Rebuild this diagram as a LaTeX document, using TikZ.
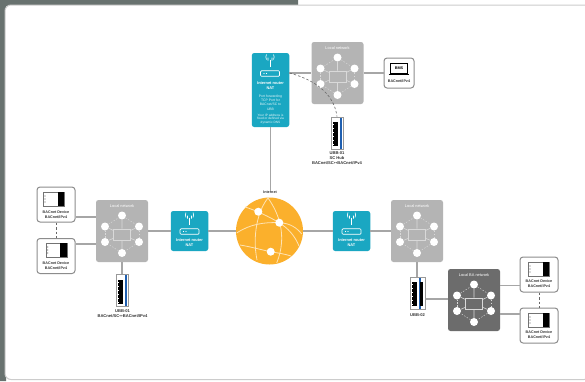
\documentclass[tikz,border=0pt]{standalone}
\usepackage{fontspec}
\setmainfont{Liberation Sans}
\newfontfamily\symfont{DejaVu Sans}
\usetikzlibrary{calc}

\definecolor{tealbox}{HTML}{1AA7C2}
\definecolor{lanbox}{HTML}{B4B4B4}
\definecolor{babox}{HTML}{6C6C6C}
\definecolor{wirecol}{HTML}{A6A6A6}
\definecolor{globecol}{HTML}{FBB02C}
\definecolor{sidecol}{HTML}{68726F}
\definecolor{ubbblue}{HTML}{1F5FB0}

\newcommand{\bothways}{{\symfont\mdseries ↔}}

\tikzset{
  wire/.style={draw=wirecol,line width=1.2pt},
  dashwire/.style={draw=black!60,line width=.6pt,dash pattern=on 2.5pt off 2pt},
  network/.style={rounded corners=2.5pt,minimum width=52pt,minimum height=62pt,inner sep=0pt,fill=lanbox},
  router/.style={rounded corners=2.5pt,minimum width=37.5pt,inner sep=0pt,fill=tealbox},
  device/.style={rounded corners=3pt,draw=black!45,line width=1pt,fill=white,minimum width=38pt,minimum height=35pt,inner sep=0pt},
  ubbbox/.style={draw=black!40,line width=.7pt,fill=white,minimum width=12pt,minimum height=32pt,inner sep=0pt},
  caption/.style={font=\bfseries\fontsize{4.1}{5}\selectfont,text=black!80,align=center,inner sep=0pt},
  whitecap/.style={font=\bfseries\fontsize{3.9}{4.8}\selectfont,text=white,align=center,inner sep=0pt},
  smallcap/.style={font=\fontsize{3.4}{4.3}\selectfont,text=white!88!tealbox,align=center,inner sep=0pt},
  dot/.style={circle,fill=white,inner sep=0pt,minimum size=8pt},
  meridian/.style={draw=white!65!globecol,line width=.8pt},
  lanicon/.pic={
    \node[dot] (-1) at (0,-15.5) {};
    \node[dot] (-2) at (17,-4.5) {};
    \node[dot] (-3) at (17,11) {};
    \node[dot] (-4) at (0,22) {};
    \node[dot] (-5) at (-17,11) {};
    \node[dot] (-6) at (-17,-4.5) {};
    \node[draw=white!85!black,line width=.6pt,minimum width=17pt,minimum height=11pt,inner sep=0pt] (-c) at (0,3.5) {};
    \foreach \a/\b in {1/2,2/3,3/4,4/5,5/6,6/1}
      \draw[white!85!black,line width=.4pt,dash pattern=on 1.5pt off 1.5pt] (-\a) -- (-\b);
    \draw[white!85!black,line width=.6pt] (-1) -- (-c) (-4) -- (-c)
      (-2) -- (-c) (-3) -- (-c) (-5) -- (-c) (-6) -- (-c);
  },
  routericon/.pic={
    \node[draw=white,line width=.7pt,rounded corners=1pt,minimum width=19pt,minimum height=5.5pt,inner sep=0pt] (-b) at (0,0) {};
    \fill[white] (-6,0) circle (.6pt) (-3.5,0) circle (.6pt);
    \draw[white,line width=.7pt] (0,-14) -- (0,-7);
    \draw[white,line width=.6pt] (-2,-13) arc (150:210:3) (2,-13) arc (30:-30:3)
      (-3.5,-14) arc (150:210:5) (3.5,-14) arc (30:-30:5);
  },
  deviceicon/.pic={
    \draw[black!55,line width=.5pt,fill=white] (-10.5,-7) rectangle (10.5,7);
    \fill[black] (4,-7) rectangle (10.5,7);
    \foreach \y in {-3,0,3} \fill[black!60] (-8.5,\y) circle (.6pt);
  },
  ubbicon/.pic={
    \fill[black] (-3.5,-11) rectangle (1.5,13);
    \foreach \y in {-9,-5,...,11} \fill[white] (-3.5,\y) rectangle (-2.2,\y+1.2);
    \fill[ubbblue] (3,-15.5) rectangle (5.7,15.5);
  }
}

\begin{document}
\begin{tikzpicture}[x=1pt,y=-1pt]
    \useasboundingbox (0,0) rectangle (585,381);

    % page and panel
    \fill[white] (0,0) rectangle (585,381);
    \fill[sidecol] (0,0) rectangle (298,6) (0,0) rectangle (6,381);
    \draw[black!20,fill=white,line width=1pt,rounded corners=6pt] (5,5) rectangle (590,379.5);

    % networks
    \node[network] (lanT) at (337.5,73) {};
    \node[network] (lanL) at (122,231) {};
    \node[network] (lanR) at (417,231) {};
    \node[network,fill=babox] (lanBA) at (474,300) {};
    \pic (iconT) at (lanT) {lanicon};
    \pic (iconL) at (lanL) {lanicon};
    \pic (iconR) at (lanR) {lanicon};
    \pic (iconBA) at (lanBA) {lanicon};
    \node[whitecap,font=\fontsize{3.9}{4.8}\selectfont] (capT) at (337.5,48) {Local network};
    \node[whitecap,font=\fontsize{3.9}{4.8}\selectfont] (capL) at (122,206) {Local network};
    \node[whitecap,font=\fontsize{3.9}{4.8}\selectfont] (capR) at (417,206) {Local network};
    \node[whitecap,font=\fontsize{3.9}{4.8}\selectfont] (capBA) at (474,275) {Local BA network};

    % routers
    \node[router,minimum height=74pt] (routerT) at (270.5,90) {};
    \node[router,minimum height=40pt] (routerL) at (189.5,231) {};
    \node[router,minimum height=40pt] (routerR) at (351.5,231) {};
    \pic (rT) at (270,73.5) {routericon};
    \pic (rL) at (189.5,231.5) {routericon};
    \pic (rR) at (351.5,231.5) {routericon};
    \node[whitecap] (txtT) at (270.5,85.5) {Internet router\\NAT};
    \node[whitecap] (txtL) at (189.5,243) {Internet router\\NAT};
    \node[whitecap] (txtR) at (351.5,243) {Internet router\\NAT};
    \node[smallcap,font=\fontsize{3.4}{4.4}\selectfont] (portT) at (270.5,102.5) {Port forwarding\\TCP Port for\\BACnet/SC to\\UBB};
    \node[smallcap,font=\fontsize{3.2}{3.7}\selectfont] (ipT) at (270.5,119) {Your IP address is\\fixed or defined via\\dynamic DNS};

    % globe
    \node[circle,fill=globecol,minimum size=67pt,inner sep=0pt] (globe) at (269.5,231) {};
    \draw[meridian] (236.7,233) .. controls (250,224) and (265,222) .. (279,222.7) .. controls (290,223) and (297,228) .. (301.7,234);
    \draw[meridian] (268,198) .. controls (258,210) and (252,235) .. (257,260);
    \draw[meridian] (268,198) .. controls (278,212) and (288,235) .. (276.7,263);
    \draw[meridian] (245,207) .. controls (255,210) and (270,217) .. (279,222.7) .. controls (288,228) and (295,236) .. (299,246);
    \draw[meridian] (240,245) .. controls (252,247) and (262,250) .. (270.7,251.7) .. controls (278,253) and (285,254) .. (291,256);
    \node[dot] (hubA) at (258.3,211.7) {};
    \node[dot] (hubB) at (279.3,222.7) {};
    \node[dot] (hubC) at (270.7,251.7) {};
    \node[caption,font=\bfseries\fontsize{3.7}{4.5}\selectfont] (inet) at (270,192.5) {Internet};

    % BMS laptop
    \node[device,minimum width=30pt,minimum height=30pt] (bms) at (399,73) {};
    \node[draw=black,line width=.7pt,fill=white,minimum width=17pt,minimum height=10pt,inner sep=0pt,font=\bfseries\fontsize{3.8}{4.5}\selectfont] (screen) at (399,68.5) {BMS};
    \draw[black,line width=1pt] ($(screen.south west)+(-1.5,1)$) -- ($(screen.south east)+(1.5,1)$);
    \node[caption,font=\bfseries\fontsize{3.7}{4.5}\selectfont] (bmscap) at (399,81) {BACnet/IPv4};

    % devices
    \node[device] (devA) at (56,204.5) {};
    \node[device] (devB) at (56,256) {};
    \node[device] (devC) at (539,274.5) {};
    \node[device] (devD) at (539,325.5) {};
    \pic at (53.5,199) {deviceicon};
    \pic at (56.3,250) {deviceicon};
    \pic at (538.5,269) {deviceicon};
    \pic at (538.5,320) {deviceicon};
    \node[caption,font=\bfseries\fontsize{3.7}{4.9}\selectfont] (capA) at (56,214.5) {BACnet Device\\BACnet/IPv4};
    \node[caption,font=\bfseries\fontsize{3.7}{4.9}\selectfont] (capB) at (56,265.5) {BACnet Device\\BACnet/IPv4};
    \node[caption,font=\bfseries\fontsize{3.7}{4.9}\selectfont] (capC) at (539,284) {BACnet Device\\BACnet/IPv4};
    \node[caption,font=\bfseries\fontsize{3.7}{4.9}\selectfont] (capD) at (539,335) {BACnet Device\\BACnet/IPv4};

    % UBB gateways
    \node[ubbbox] (ubbT) at (337,133) {};
    \node[ubbbox] (ubbL) at (122,290.5) {};
    \node[ubbbox,minimum width=15.5pt] (ubbR) at (417.8,293) {};
    \pic at (336.5,133) {ubbicon};
    \pic at (121.5,290.5) {ubbicon};
    \pic at (415.5,293) {ubbicon};
    \fill[black] (419.5,282) rectangle (423,306);
    \node[caption] (ubbcapT) at (337,158) {UBB-01\\SC Hub\\BACnet/SC\bothways BACnet/IPv4};
    \node[caption] (ubbcapL) at (122.5,313.5) {UBB-01\\BACnet/SC\bothways BACnet/IPv4};
    \node[caption] (ubbcapR) at (417.5,315) {UBB-02};

    % links
    \coordinate (levT) at (0,73);
    \coordinate (tapA) at (0,217);
    \coordinate (tapB) at (0,244);
    \coordinate (tapC) at (0,285.7);
    \coordinate (tapD) at (0,314);
    \coordinate (tapE) at (0,299);
    \draw[wire] (routerT.east |- levT) -- (lanT.west);
    \draw[wire] (lanT.east) -- (bms.west);
    \draw[wire] (routerT.south) -- (inet.north -| routerT.south);
    \draw[wire] (lanL.east) -- (routerL.west);
    \draw[wire] (routerL.east) -- (globe.west);
    \draw[wire] (globe.east) -- (routerR.west);
    \draw[wire] (routerR.east) -- (lanR.west);
    \draw[wire] (devA.east |- tapA) -- (lanL.west |- tapA);
    \draw[wire] (devB.east |- tapB) -- (lanL.west |- tapB);
    \draw[wire] (lanL.south) -- (ubbL.north);
    \draw[wire] (lanR.south) -- (ubbR.north -| lanR.south);
    \draw[wire] (ubbR.east |- tapE) -- (lanBA.west |- tapE);
    \draw[wire] (lanBA.east |- tapC) -- (devC.west |- tapC);
    \draw[wire] (lanBA.east |- tapD) -- (devD.west |- tapD);
    \draw[dashwire] (devA.south) -- (devB.north);
    \draw[dashwire] (devC.south) -- (devD.north);
    \draw[dashwire] (routerT.east |- levT) .. controls (312,79) and (334,92) .. (ubbT.north);
\end{tikzpicture}
\end{document}
